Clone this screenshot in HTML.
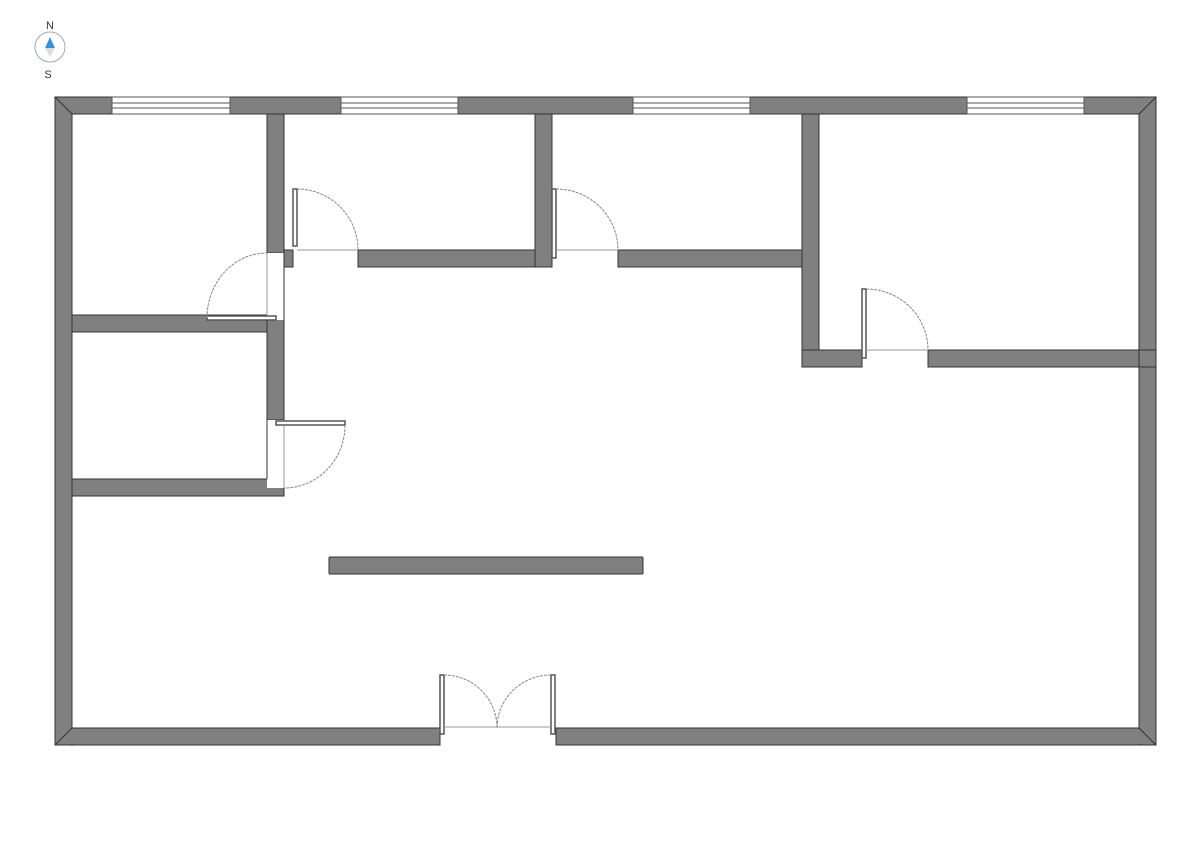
<!DOCTYPE html>
<html><head><meta charset="utf-8"><style>
html,body{margin:0;padding:0;background:#fff;}
svg{display:block;}
.w{fill:#808080;stroke:#333;stroke-width:1;}
.win{fill:#fff;stroke:#555;stroke-width:1;}
.leaf{fill:#fff;stroke:#555;stroke-width:1.5;}
.arc{fill:none;stroke:#888;stroke-width:1;stroke-dasharray:3,1;}
.sill{stroke:#999;stroke-width:1;}
</style></head><body>
<svg width="1191" height="842" viewBox="0 0 1191 842" xmlns="http://www.w3.org/2000/svg">
<!-- compass -->
<text x="50" y="29" font-family="Liberation Sans, sans-serif" font-size="11" fill="#333" text-anchor="middle">N</text>
<circle cx="50" cy="47" r="15" fill="#fff" stroke="#9ab" stroke-width="1"/>
<polygon points="50,37 45,48 55,48" fill="#3a8fd8"/>
<polygon points="50,57 45,48 55,48" fill="#ddd"/>
<text x="48" y="78" font-family="Liberation Sans, sans-serif" font-size="11" fill="#333" text-anchor="middle">S</text>

<!-- outer walls -->
<rect class="w" x="55" y="97" width="1101" height="17"/>
<rect class="w" x="55" y="728" width="385" height="17"/>
<rect class="w" x="556" y="728" width="600" height="17"/>
<rect class="w" x="55" y="97" width="17" height="648"/>
<rect class="w" x="1139" y="97" width="17" height="648"/>
<rect x="56" y="98" width="1099" height="15" fill="#808080"/>
<rect x="56" y="98" width="15" height="646" fill="#808080"/>
<rect x="1140" y="98" width="15" height="646" fill="#808080"/>
<rect x="56" y="729" width="383" height="15" fill="#808080"/>
<rect x="557" y="729" width="598" height="15" fill="#808080"/>
<line x1="72" y1="114" x2="1139" y2="114" stroke="#333"/>
<line x1="72" y1="114" x2="72" y2="728" stroke="#333"/>
<line x1="1139" y1="114" x2="1139" y2="728" stroke="#333"/>
<line x1="72" y1="728" x2="440" y2="728" stroke="#333"/>
<line x1="556" y1="728" x2="1139" y2="728" stroke="#333"/>
<line x1="55" y1="97" x2="72" y2="114" stroke="#333"/>
<line x1="1156" y1="97" x2="1139" y2="114" stroke="#333"/>
<line x1="55" y1="745" x2="72" y2="728" stroke="#333"/>
<line x1="1156" y1="745" x2="1139" y2="728" stroke="#333"/>

<!-- windows -->
<g>
<rect class="win" x="112" y="97" width="118" height="17"/>
<line x1="112" y1="103" x2="230" y2="103" stroke="#555"/><line x1="112" y1="108" x2="230" y2="108" stroke="#555"/>
<rect class="win" x="341" y="97" width="117" height="17"/>
<line x1="341" y1="103" x2="458" y2="103" stroke="#555"/><line x1="341" y1="108" x2="458" y2="108" stroke="#555"/>
<rect class="win" x="633" y="97" width="117" height="17"/>
<line x1="633" y1="103" x2="750" y2="103" stroke="#555"/><line x1="633" y1="108" x2="750" y2="108" stroke="#555"/>
<rect class="win" x="967" y="97" width="117" height="17"/>
<line x1="967" y1="103" x2="1084" y2="103" stroke="#555"/><line x1="967" y1="108" x2="1084" y2="108" stroke="#555"/>
</g>

<!-- interior walls -->
<rect class="w" x="267" y="114" width="17" height="139"/>
<rect class="w" x="284" y="250" width="9" height="17"/>
<rect class="w" x="72" y="315" width="212" height="17"/>
<rect class="w" x="267" y="320" width="17" height="100"/>
<rect x="268" y="316" width="15" height="103" fill="#808080"/>
<rect class="w" x="72" y="479" width="212" height="17"/>
<rect class="w" x="358" y="250" width="182" height="17"/>
<rect class="w" x="535" y="114" width="17" height="153"/>
<rect x="536" y="251" width="15" height="15" fill="#808080"/>
<rect class="w" x="618" y="250" width="192" height="17"/>
<rect class="w" x="802" y="114" width="17" height="253"/>
<rect class="w" x="802" y="350" width="60" height="17"/>
<rect x="803" y="351" width="15" height="15" fill="#808080"/>
<rect x="803" y="251" width="15" height="15" fill="#808080"/>
<rect class="w" x="928" y="350" width="228" height="17"/>
<rect x="1140" y="351" width="15" height="15" fill="#808080"/>
<line x1="1139" y1="350" x2="1139" y2="367" stroke="#333"/>
<rect class="w" x="329" y="557" width="314" height="17" rx="1"/>

<!-- door 1 (left top room) -->
<rect x="267" y="253" width="17" height="67" fill="#fff"/>
<line x1="267" y1="253" x2="267" y2="318" class="sill"/>
<line x1="284" y1="253" x2="284" y2="320" stroke="#333"/>
<rect class="leaf" x="207" y="316" width="69" height="4"/>
<path class="arc" d="M207,318 A60,65 0 0 1 267,253"/>

<!-- door 2 -->
<rect class="leaf" x="293" y="189" width="4" height="57"/>
<line x1="297" y1="250" x2="358" y2="250" class="sill"/>
<path class="arc" d="M297,189 A61,61 0 0 1 358,250"/>

<!-- door 3 -->
<rect class="leaf" x="552" y="189" width="4" height="69"/>
<line x1="556" y1="250" x2="618" y2="250" class="sill"/>
<path class="arc" d="M556,189 A62,61 0 0 1 618,250"/>

<!-- door 4 (right room) -->
<rect class="leaf" x="862" y="289" width="4" height="69"/>
<line x1="866" y1="350" x2="928" y2="350" class="sill"/>
<path class="arc" d="M866,289 A62,61 0 0 1 928,350"/>

<!-- door 5 (left lower room) -->
<rect x="267" y="420" width="17" height="68" fill="#fff"/>
<line x1="284" y1="426" x2="284" y2="488" class="sill"/>
<line x1="267" y1="420" x2="267" y2="479" stroke="#333"/>
<rect class="leaf" x="276" y="421" width="69" height="4"/>
<path class="arc" d="M345,425 A61,63 0 0 1 284,488"/>

<!-- double door bottom -->
<rect class="leaf" x="440" y="675" width="4" height="59"/>
<rect class="leaf" x="551" y="675" width="4" height="59"/>
<line x1="444" y1="727" x2="551" y2="727" class="sill"/>
<path class="arc" d="M444,675 A53,53 0 0 1 497,728"/>
<path class="arc" d="M551,675 A54,53 0 0 0 497,728"/>
</svg>
</body></html>
